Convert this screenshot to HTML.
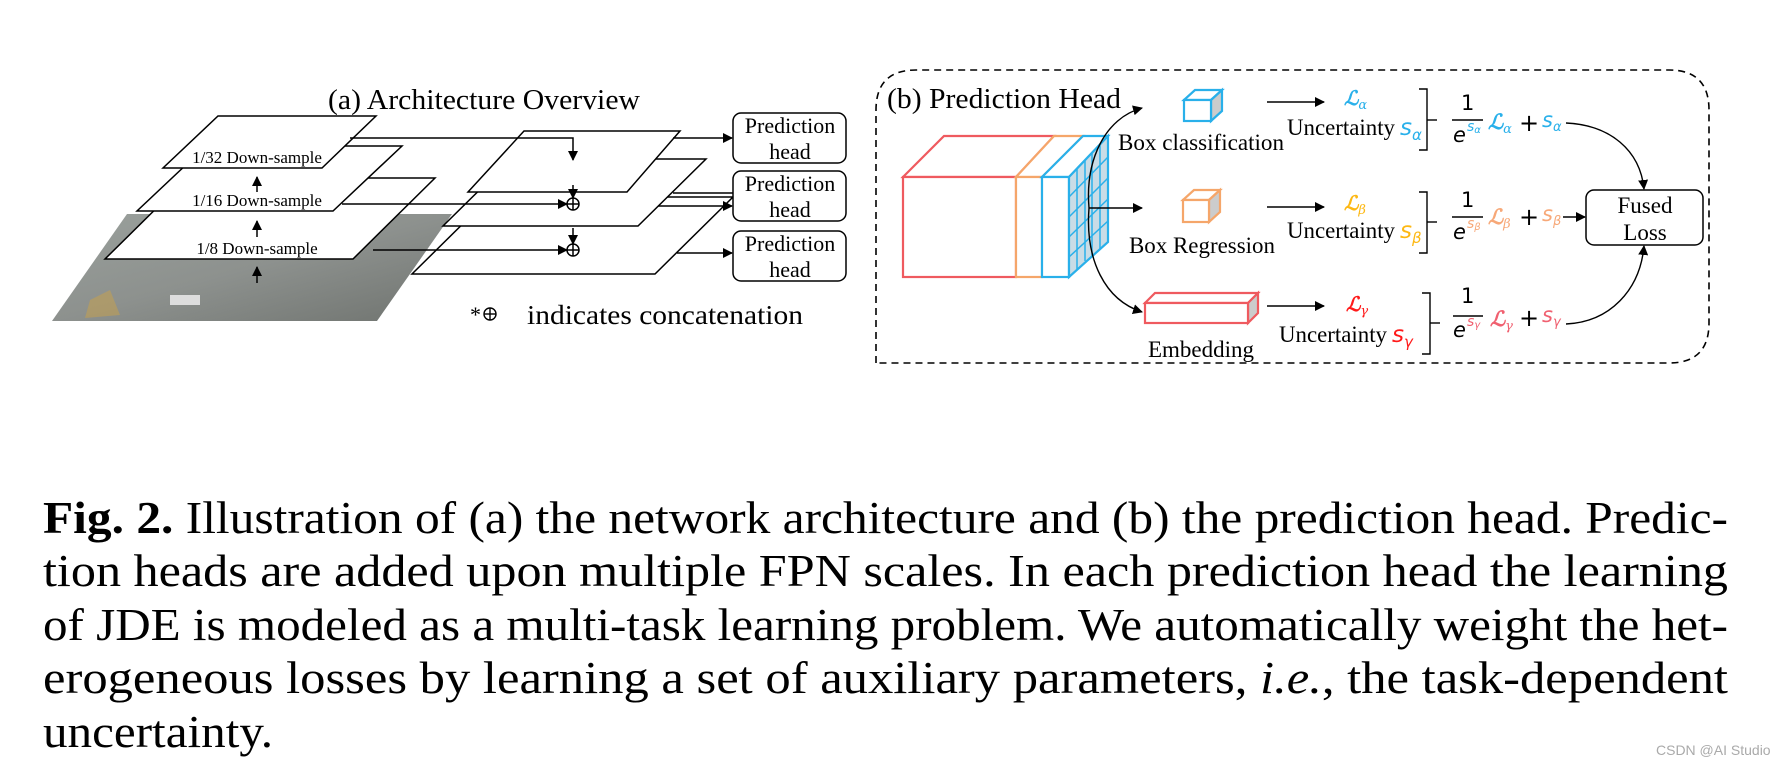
<!DOCTYPE html>
<html><head><meta charset="utf-8"><style>
html,body{margin:0;padding:0;background:#fff;}
svg{display:block;}
</style></head><body>
<svg width="1785" height="766" viewBox="0 0 1785 766" xmlns="http://www.w3.org/2000/svg" font-family="Liberation Serif, serif">
<defs>
<marker id="ah" markerWidth="10" markerHeight="10" refX="9" refY="5" orient="auto" markerUnits="userSpaceOnUse"><path d="M0,0 L10,5 L0,10 z" fill="#000"/></marker>
<linearGradient id="ph" x1="0" y1="0" x2="1" y2="1"><stop offset="0" stop-color="#9aa09c"/><stop offset="0.5" stop-color="#8d918e"/><stop offset="1" stop-color="#6f736f"/></linearGradient>
</defs>
<rect width="1785" height="766" fill="#fff"/>

<!-- (a) -->
<text x="328" y="109" font-size="29" textLength="312" lengthAdjust="spacingAndGlyphs">(a) Architecture Overview</text>
<polygon points="52,321 377,321 452,214 127,214" fill="url(#ph)"/>
<polygon points="90,300 110,290 120,315 85,318" fill="#c9a24a" opacity="0.5"/>
<rect x="300" y="230" width="40" height="12" fill="#eee"/>
<rect x="170" y="295" width="30" height="10" fill="#ddd"/>
<g stroke="#000" stroke-width="1.5" fill="#fff">
<polygon points="105,259 353,259 435,178 187,178"/>
<polygon points="137,211 333,211 402,146 206,146"/>
<polygon points="163,168 322,168 376,116 218,116"/>
</g>
<g font-size="17" text-anchor="middle">
<text x="257" y="163">1/32 Down-sample</text>
<text x="257" y="206">1/16 Down-sample</text>
<text x="257" y="254">1/8 Down-sample</text>
</g>
<g stroke="#000" stroke-width="1.5" marker-end="url(#ah)">
<line x1="257" y1="192" x2="257" y2="177"/>
<line x1="257" y1="237" x2="257" y2="221"/>
<line x1="257" y1="283" x2="257" y2="267"/>
</g>
<g stroke="#000" stroke-width="1.5" fill="#fff">
<polygon points="412,274 655,274 733,197 490,197"/>
<polygon points="443,226 638,226 706,159 511,159"/>
<polygon points="468,192 627,192 680,131 524,131"/>
</g>
<g stroke="#000" stroke-width="1.5" fill="none">
<polyline points="350,138 573,138 573,160" marker-end="url(#ah)"/>
<line x1="573" y1="185" x2="573" y2="198" marker-end="url(#ah)"/>
<line x1="342" y1="204" x2="567" y2="204" marker-end="url(#ah)"/>
<circle cx="573" cy="204" r="6"/><line x1="567" y1="204" x2="579" y2="204"/><line x1="573" y1="198" x2="573" y2="210"/>
<line x1="573" y1="228" x2="573" y2="244" marker-end="url(#ah)"/>
<line x1="373" y1="250" x2="567" y2="250" marker-end="url(#ah)"/>
<circle cx="573" cy="250" r="6"/><line x1="567" y1="250" x2="579" y2="250"/><line x1="573" y1="244" x2="573" y2="256"/>
<line x1="673" y1="138" x2="732" y2="138" marker-end="url(#ah)"/>
<line x1="673" y1="193" x2="733" y2="193"/>
<line x1="658" y1="206" x2="732" y2="206" marker-end="url(#ah)"/>
<line x1="677" y1="253" x2="732" y2="253" marker-end="url(#ah)"/>
</g>
<g stroke="#000" stroke-width="1.5" fill="#fff">
<rect x="733" y="113" width="113" height="50" rx="8"/>
<rect x="733" y="171" width="113" height="50" rx="8"/>
<rect x="733" y="231" width="113" height="50" rx="8"/>
</g>
<g font-size="22" text-anchor="middle">
<text x="790" y="133">Prediction</text><text x="790" y="159">head</text>
<text x="790" y="191">Prediction</text><text x="790" y="217">head</text>
<text x="790" y="251">Prediction</text><text x="790" y="277">head</text>
</g>
<text x="470" y="322" font-size="22">*</text>
<g stroke="#000" stroke-width="1.4" fill="none"><circle cx="490" cy="314" r="6"/><line x1="484" y1="314" x2="496" y2="314"/><line x1="490" y1="308" x2="490" y2="320"/></g>
<text x="527" y="324" font-size="27" textLength="276" lengthAdjust="spacingAndGlyphs">indicates concatenation</text>

<!-- (b) -->
<path d="M876,363 L876,110 Q876,70 916,70 L1669,70 Q1709,70 1709,110 L1709,323 Q1709,363 1669,363 Z" fill="none" stroke="#000" stroke-width="1.6" stroke-dasharray="7,5"/>
<text x="887" y="108" font-size="29" textLength="234" lengthAdjust="spacingAndGlyphs">(b) Prediction Head</text>
<g fill="#fff" stroke-width="2.2">
<polygon points="903,177 944,136 1054,136 1016,177" stroke="#ef5a5f"/>
<rect x="903" y="177" width="113" height="100" stroke="#ef5a5f"/>
<polygon points="1016,177 1054,136 1083,136 1042,177" stroke="#f5a66a"/>
<rect x="1016" y="177" width="26" height="100" stroke="#f5a66a"/>
<polygon points="1042,177 1083,136 1108,136 1069,177" stroke="#29b0ea"/>
<rect x="1042" y="177" width="27" height="100" stroke="#29b0ea"/>
<polygon points="1069,177 1108,136 1108,242 1069,277" fill="#c9dce6" stroke="#29b0ea"/>
</g>
<g stroke="#29b0ea" stroke-width="1.5">
<line x1="1077" y1="169" x2="1077" y2="269"/><line x1="1085" y1="161" x2="1085" y2="261"/><line x1="1092" y1="152" x2="1092" y2="256"/><line x1="1100" y1="144" x2="1100" y2="249"/>
<line x1="1069" y1="197" x2="1108" y2="157"/><line x1="1069" y1="217" x2="1108" y2="178"/><line x1="1069" y1="237" x2="1108" y2="199"/><line x1="1069" y1="257" x2="1108" y2="221"/>
</g>
<g stroke="#000" stroke-width="1.4" fill="none">
<path d="M1089,208 C1085,160 1105,118 1142,108" marker-end="url(#ah)"/>
<line x1="1089" y1="208" x2="1142" y2="208" marker-end="url(#ah)"/>
<path d="M1089,208 C1085,260 1105,300 1142,312" marker-end="url(#ah)"/>
</g>
<g stroke-width="2.2">
<polygon points="1184,100 1195,90 1222,90 1211,100" fill="#fff" stroke="#29b0ea"/>
<polygon points="1211,100 1222,90 1222,111 1211,121" fill="#ccc" stroke="#29b0ea"/>
<rect x="1184" y="100" width="27" height="21" fill="#fff" stroke="#29b0ea"/>
<polygon points="1183,200 1194,190 1220,190 1209,200" fill="#fff" stroke="#f5a66a"/>
<polygon points="1209,200 1220,190 1220,212 1209,222" fill="#ccc" stroke="#f5a66a"/>
<rect x="1183" y="200" width="26" height="22" fill="#fff" stroke="#f5a66a"/>
<polygon points="1145,303 1155,293 1258,293 1248,303" fill="#fff" stroke="#ef5a5f"/>
<polygon points="1248,303 1258,293 1258,313 1248,323" fill="#ccc" stroke="#ef5a5f"/>
<rect x="1145" y="303" width="103" height="20" fill="#fff" stroke="#ef5a5f"/>
</g>
<g font-size="23">
<text x="1118" y="150" textLength="166" lengthAdjust="spacingAndGlyphs">Box classification</text>
<text x="1129" y="253" textLength="146" lengthAdjust="spacingAndGlyphs">Box Regression</text>
<text x="1148" y="357" textLength="106" lengthAdjust="spacingAndGlyphs">Embedding</text>
<text x="1287" y="135" textLength="108" lengthAdjust="spacingAndGlyphs">Uncertainty</text>
<text x="1287" y="238" textLength="108" lengthAdjust="spacingAndGlyphs">Uncertainty</text>
<text x="1279" y="342" textLength="108" lengthAdjust="spacingAndGlyphs">Uncertainty</text>
</g>
<g stroke="#000" stroke-width="1.4" marker-end="url(#ah)">
<line x1="1267" y1="102" x2="1324" y2="102"/>
<line x1="1267" y1="207" x2="1324" y2="207"/>
<line x1="1267" y1="306" x2="1324" y2="306"/>
</g>
<g font-family="DejaVu Serif, serif" font-style="italic" font-weight="bold">
<text x="1344" y="105" font-size="20" fill="#29b0ea">ℒ<tspan font-size="13" dy="4" font-weight="normal">α</tspan></text>
<text x="1344" y="210" font-size="20" fill="#fdb813">ℒ<tspan font-size="13" dy="4" font-weight="normal">β</tspan></text>
<text x="1346" y="311" font-size="20" fill="#ff1a1a">ℒ<tspan font-size="13" dy="4" font-weight="normal">γ</tspan></text>
</g>
<g font-family="DejaVu Sans, sans-serif" font-style="italic">
<text x="1400" y="135" font-size="23" fill="#29b0ea">s<tspan font-size="15" dy="5">α</tspan></text>
<text x="1400" y="238" font-size="23" fill="#fdb813">s<tspan font-size="15" dy="5">β</tspan></text>
<text x="1392" y="342" font-size="23" fill="#ff1a1a">s<tspan font-size="15" dy="5">γ</tspan></text>
</g>
<g stroke="#000" stroke-width="1.4" fill="none">
<polyline points="1419,89 1427,89 1427,150 1419,150"/><line x1="1427" y1="120" x2="1437" y2="120"/>
<polyline points="1419,192 1427,192 1427,253 1419,253"/><line x1="1427" y1="222" x2="1437" y2="222"/>
<polyline points="1422,293 1430,293 1430,354 1422,354"/><line x1="1430" y1="323" x2="1440" y2="323"/>
<line x1="1452" y1="120" x2="1483" y2="120"/>
<line x1="1452" y1="217" x2="1483" y2="217"/>
<line x1="1453" y1="316" x2="1483" y2="316"/>
</g>
<g font-family="DejaVu Sans, sans-serif" font-size="21">
<text x="1461" y="110">1</text><text x="1461" y="207">1</text><text x="1461" y="303">1</text>
<text x="1453" y="142" font-style="italic">e</text><text x="1467" y="131" font-size="14" fill="#29b0ea" font-style="italic">s<tspan font-size="10" dy="2">α</tspan></text>
<text x="1453" y="239" font-style="italic">e</text><text x="1467" y="228" font-size="14" fill="#f7a878" font-style="italic">s<tspan font-size="10" dy="2">β</tspan></text>
<text x="1453" y="337" font-style="italic">e</text><text x="1467" y="326" font-size="14" fill="#f06070" font-style="italic">s<tspan font-size="10" dy="2">γ</tspan></text>
<text x="1519" y="131" font-size="24">+</text>
<text x="1519" y="225" font-size="24">+</text>
<text x="1519" y="326" font-size="24">+</text>
</g>
<g font-family="DejaVu Serif, serif" font-style="italic" font-weight="bold">
<text x="1488" y="129" font-size="21" fill="#29b0ea">ℒ<tspan font-size="13" dy="4" font-weight="normal">α</tspan></text>
<text x="1488" y="224" font-size="21" fill="#f7a878">ℒ<tspan font-size="13" dy="4" font-weight="normal">β</tspan></text>
<text x="1490" y="326" font-size="21" fill="#f06070">ℒ<tspan font-size="13" dy="4" font-weight="normal">γ</tspan></text>
</g>
<g font-family="DejaVu Sans, sans-serif" font-style="italic">
<text x="1542" y="127" font-size="21" fill="#29b0ea">s<tspan font-size="13" dy="4">α</tspan></text>
<text x="1542" y="221" font-size="21" fill="#f7a878">s<tspan font-size="13" dy="4">β</tspan></text>
<text x="1542" y="322" font-size="21" fill="#f06070">s<tspan font-size="13" dy="4">γ</tspan></text>
</g>
<g stroke="#000" stroke-width="1.4" fill="none">
<path d="M1566,123 C1610,125 1640,150 1644,189" marker-end="url(#ah)"/>
<line x1="1563" y1="217" x2="1585" y2="217" marker-end="url(#ah)"/>
<path d="M1566,324 C1610,322 1640,290 1644,246" marker-end="url(#ah)"/>
</g>
<rect x="1586" y="190" width="117" height="55" rx="8" fill="#fff" stroke="#000" stroke-width="1.5"/>
<text x="1645" y="213" font-size="23" text-anchor="middle">Fused</text>
<text x="1645" y="240" font-size="23" text-anchor="middle">Loss</text>

<!-- caption -->
<g font-size="46">
<text x="43" y="533" textLength="1685" lengthAdjust="spacingAndGlyphs"><tspan font-weight="bold">Fig. 2.</tspan> Illustration of (a) the network architecture and (b) the prediction head. Predic-</text>
<text x="43" y="586" textLength="1685" lengthAdjust="spacingAndGlyphs">tion heads are added upon multiple FPN scales. In each prediction head the learning</text>
<text x="43" y="640" textLength="1685" lengthAdjust="spacingAndGlyphs">of JDE is modeled as a multi-task learning problem. We automatically weight the het-</text>
<text x="43" y="693" textLength="1685" lengthAdjust="spacingAndGlyphs">erogeneous losses by learning a set of auxiliary parameters, <tspan font-style="italic">i.e.</tspan>, the task-dependent</text>
<text x="43" y="747" textLength="230" lengthAdjust="spacingAndGlyphs">uncertainty.</text>
</g>
<text x="1656" y="755" font-family="Liberation Sans, sans-serif" font-size="14" fill="#aaa">CSDN @AI Studio</text>
</svg>
</body></html>
